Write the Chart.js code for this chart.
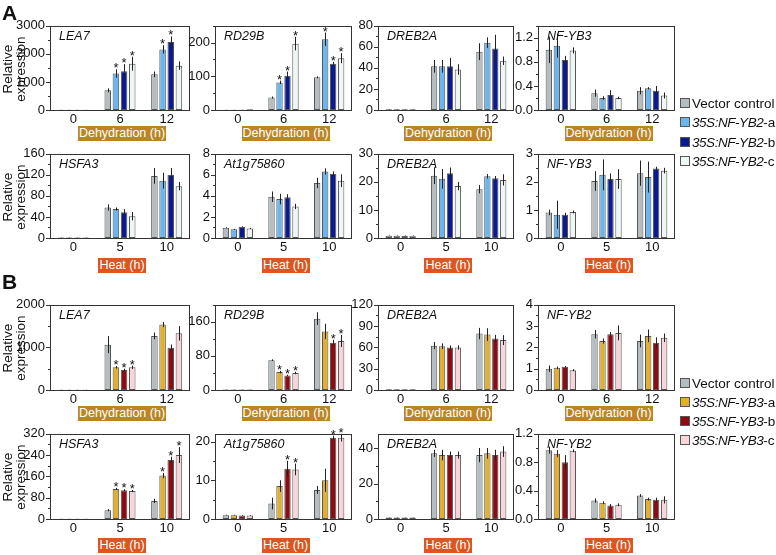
<!DOCTYPE html>
<html>
<head>
<meta charset="utf-8">
<script src="https://cdn.jsdelivr.net/npm/chart.js@4.4.0/dist/chart.umd.min.js"></script>
<style>
body{margin:0;background:#fff;width:776px;height:555px;position:relative;overflow:hidden;font-family:"Liberation Sans",Arial,sans-serif;color:#111}
canvas{position:absolute}
.xt{position:absolute;height:15px;line-height:15px;color:#fff;font-size:12.5px;text-align:center;white-space:nowrap}
.yt{position:absolute;width:130px;height:26px;line-height:12.5px;font-size:13.5px;text-align:center;transform:rotate(-90deg)}
.leg{position:absolute;left:680px;font-size:13.5px;line-height:16px;white-space:nowrap}
.leg i{letter-spacing:-0.45px}
.sw{display:inline-block;width:8px;height:8px;border:1px solid #555;margin-right:2px}
.lab{position:absolute;left:2px;font-size:21px;font-weight:bold}
</style>
</head>
<body>
<script>
// x categories
const dehydHours = ['0', '6', '12'];
const heatHours = ['0', '5', '10'];

// lines (series)
const linesYB2 = ['Vector control', '35S:NF-YB2-a', '35S:NF-YB2-b', '35S:NF-YB2-c'];
const linesYB3 = ['Vector control', '35S:NF-YB3-a', '35S:NF-YB3-b', '35S:NF-YB3-c'];
const coloursYB2 = ['#b5bdc0', '#6bb6ee', '#0b1a8e', '#eef7f3'];
const coloursYB3 = ['#b5bdc0', '#e2b02e', '#8c0c16', '#f7d5da'];

// ---- A, dehydration ----
const aLea7 = [[5, 700, 1270], [5, 1300, 2160], [5, 1385, 2420], [5, 1650, 1580]];
const aLea7Err = [[3, 70, 100], [3, 150, 150], [3, 250, 200], [3, 250, 150]];
const aLea7Star = [[0, 0, 0], [0, 1, 1], [0, 1, 1], [0, 1, 0]];

const aRd29b = [[1, 37, 97], [1, 82, 210], [1, 102, 137], [2, 197, 154]];
const aRd29bErr = [[0.3, 3, 3], [0.3, 5, 20], [0.3, 12, 6], [0.3, 20, 15]];
const aRd29bStar = [[0, 0, 0], [0, 1, 1], [0, 1, 1], [0, 1, 1]];

const aDreb2aD = [[0.8, 41.5, 55.4], [0.8, 41.5, 64], [0.8, 41.5, 58.5], [0.8, 38.5, 46.8]];
const aDreb2aDErr = [[0.2, 6, 8], [0.2, 6, 5], [0.2, 8, 13], [0.2, 5, 4]];

const aYb3D = [[1.0, 0.28, 0.32], [1.07, 0.2, 0.36], [0.83, 0.25, 0.32], [0.99, 0.2, 0.24]];
const aYb3DErr = [[0.22, 0.06, 0.06], [0.2, 0.03, 0.02], [0.07, 0.08, 0.08], [0.05, 0.02, 0.05]];

// ---- A, heat ----
const aHsfa3 = [[1, 58, 118], [1, 55, 109], [1, 49, 120], [1, 41.5, 98.5]];
const aHsfa3Err = [[0.3, 6, 15], [0.3, 3, 15], [0.3, 6, 13], [0.3, 8, 8]];

const aAt1g = [[0.97, 3.92, 5.23], [0.82, 3.7, 6.32], [1.06, 3.86, 6.08], [0.91, 3.0, 5.44]];
const aAt1gErr = [[0.05, 0.5, 0.5], [0.05, 0.5, 0.3], [0.05, 0.3, 0.25], [0.05, 0.25, 0.6]];

const aDreb2aH = [[0.8, 22.2, 17.4], [0.8, 21.1, 22], [0.8, 23.1, 21.3], [0.8, 18.5, 20.7]];
const aDreb2aHErr = [[0.1, 3, 1.5], [0.1, 3.5, 0.8], [0.1, 2, 0.8], [0.1, 1.5, 2]];

const aYb3H = [[0.91, 2.03, 2.31], [0.83, 2.25, 2.17], [0.83, 2.1, 2.48], [0.93, 2.1, 2.4]];
const aYb3HErr = [[0.1, 0.35, 0.45], [0.5, 0.55, 0.55], [0.07, 0.2, 0.06], [0.05, 0.35, 0.1]];

// ---- B, dehydration ----
const bLea7 = [[5, 1065, 1270], [5, 532, 1536], [5, 471, 989], [5, 532, 1330]];
const bLea7Err = [[3, 200, 80], [3, 30, 60], [3, 30, 80], [3, 40, 170]];
const bLea7Star = [[0, 0, 0], [0, 1, 0], [0, 1, 0], [0, 1, 0]];

const bRd29b = [[1, 70, 167.5], [1, 42, 137.5], [1, 34, 111], [1, 40, 115]];
const bRd29bErr = [[0.3, 2, 15], [0.3, 3, 18], [0.3, 2, 7], [0.3, 3, 14]];
const bRd29bStar = [[0, 0, 0], [0, 1, 0], [0, 1, 1], [0, 1, 1]];

const bDreb2aD = [[1, 62.5, 79.5], [1, 61.6, 78], [1, 59.8, 72.6], [1, 59.8, 70.3]];
const bDreb2aDErr = [[0.2, 5, 8], [0.2, 4, 9], [0.2, 3, 5], [0.2, 3, 7]];

const bYb2D = [[1.0, 2.62, 2.3], [1.04, 2.3, 2.54], [1.09, 2.62, 2.22], [0.93, 2.68, 2.45]];
const bYb2DErr = [[0.15, 0.2, 0.3], [0.06, 0.12, 0.3], [0.04, 0.1, 0.25], [0.05, 0.35, 0.2]];

// ---- B, heat ----
const bHsfa3 = [[1, 33, 68], [1, 113, 163], [1, 108, 222], [1, 105, 240]];
const bHsfa3Err = [[0.3, 4, 8], [0.3, 4, 10], [0.3, 4, 12], [0.3, 4, 30]];
const bHsfa3Star = [[0, 0, 0], [0, 1, 1], [0, 1, 1], [0, 1, 1]];

const bAt1g = [[1, 4, 7.5], [1, 8.5, 10], [0.9, 13, 21], [0.9, 12.8, 21]];
const bAt1gErr = [[0.1, 1.5, 1], [0.1, 1.5, 3], [0.1, 2, 0.5], [0.1, 1.5, 1]];
const bAt1gStar = [[0, 0, 0], [0, 0, 0], [0, 1, 1], [0, 1, 1]];

const bDreb2aH = [[0.8, 37, 36], [0.8, 36, 37], [0.8, 36, 36], [0.8, 36, 38]];
const bDreb2aHErr = [[0.1, 2, 4], [0.1, 3, 3], [0.1, 2, 3], [0.1, 2, 3]];

const bYb2H = [[0.97, 0.26, 0.33], [0.92, 0.23, 0.28], [0.8, 0.19, 0.27], [0.96, 0.2, 0.27]];
const bYb2HErr = [[0.05, 0.03, 0.02], [0.05, 0.02, 0.02], [0.1, 0.02, 0.03], [0.02, 0.02, 0.05]];

const noStar = [[0, 0, 0], [0, 0, 0], [0, 0, 0], [0, 0, 0]];

// layout of plot areas
const cols = [[50, 190], [215, 352], [378, 514], [538, 675]];
const rows = [[23, 110], [151, 238], [302, 390], [431, 519]];
const boxTop = [126, 258, 406, 538];

const panels = [
  {gene: 'LEA7', row: 0, col: 0, mean: aLea7, err: aLea7Err, star: aLea7Star, max: 3000, major: 1000, minor: 500, dec: 0},
  {gene: 'RD29B', row: 0, col: 1, mean: aRd29b, err: aRd29bErr, star: aRd29bStar, max: 250, major: 100, minor: 50, dec: 0},
  {gene: 'DREB2A', row: 0, col: 2, mean: aDreb2aD, err: aDreb2aDErr, star: noStar, max: 80, major: 20, minor: 10, dec: 0},
  {gene: 'NF-YB3', row: 0, col: 3, mean: aYb3D, err: aYb3DErr, star: noStar, max: 1.4, major: 0.4, minor: 0.2, dec: 1},
  {gene: 'HSFA3', row: 1, col: 0, mean: aHsfa3, err: aHsfa3Err, star: noStar, max: 160, major: 40, minor: 20, dec: 0},
  {gene: 'At1g75860', row: 1, col: 1, mean: aAt1g, err: aAt1gErr, star: noStar, max: 8, major: 2, minor: 1, dec: 0},
  {gene: 'DREB2A', row: 1, col: 2, mean: aDreb2aH, err: aDreb2aHErr, star: noStar, max: 30, major: 10, minor: 5, dec: 0},
  {gene: 'NF-YB3', row: 1, col: 3, mean: aYb3H, err: aYb3HErr, star: noStar, max: 3, major: 1, minor: 0.5, dec: 0},
  {gene: 'LEA7', row: 2, col: 0, mean: bLea7, err: bLea7Err, star: bLea7Star, max: 2000, major: 1000, minor: 500, dec: 0},
  {gene: 'RD29B', row: 2, col: 1, mean: bRd29b, err: bRd29bErr, star: bRd29bStar, max: 200, major: 80, minor: 40, dec: 0},
  {gene: 'DREB2A', row: 2, col: 2, mean: bDreb2aD, err: bDreb2aDErr, star: noStar, max: 120, major: 30, minor: 15, dec: 0},
  {gene: 'NF-YB2', row: 2, col: 3, mean: bYb2D, err: bYb2DErr, star: noStar, max: 4, major: 1, minor: 0.5, dec: 0},
  {gene: 'HSFA3', row: 3, col: 0, mean: bHsfa3, err: bHsfa3Err, star: bHsfa3Star, max: 320, major: 80, minor: 40, dec: 0},
  {gene: 'At1g75860', row: 3, col: 1, mean: bAt1g, err: bAt1gErr, star: bAt1gStar, max: 22, major: 10, minor: 5, dec: 0},
  {gene: 'DREB2A', row: 3, col: 2, mean: bDreb2aH, err: bDreb2aHErr, star: noStar, max: 48, major: 20, minor: 10, dec: 0},
  {gene: 'NF-YB2', row: 3, col: 3, mean: bYb2H, err: bYb2HErr, star: noStar, max: 1.2, major: 0.4, minor: 0.2, dec: 1}
];

const FONT = '"Liberation Sans", Arial, sans-serif';
Chart.defaults.font.family = FONT;
Chart.defaults.font.size = 13;
Chart.defaults.color = '#111';

// error bars, asterisks, frame, y ticks and gene name
const decor = {
  id: 'decor',
  afterDatasetsDraw(chart, args, o) {
    const ctx = chart.ctx, ca = chart.chartArea, y = chart.scales.y;
    ctx.save();
    ctx.strokeStyle = '#222';
    ctx.lineWidth = 1;
    ctx.fillStyle = '#111';
    ctx.font = '13px ' + FONT;
    ctx.textAlign = 'center';
    chart.data.datasets.forEach((ds, i) => {
      chart.getDatasetMeta(i).data.forEach((bar, j) => {
        const v = ds.data[j], e = o.err[i][j];
        const x = Math.round(bar.x) + 0.5;
        const top = y.getPixelForValue(v + e);
        ctx.beginPath();
        ctx.moveTo(x, y.getPixelForValue(Math.max(0, v - e)));
        ctx.lineTo(x, top);
        ctx.stroke();
        if (o.star[i][j]) ctx.fillText('*', bar.x, top + 3);
      });
    });
    // frame
    ctx.strokeStyle = '#333';
    ctx.strokeRect(Math.round(ca.left) + 0.5, Math.round(ca.top) + 0.5,
      Math.round(ca.right - ca.left) - 1, Math.round(ca.bottom - ca.top));
    // y ticks
    y.ticks.forEach(t => {
      const py = Math.round(y.getPixelForValue(t.value)) + 0.5;
      const len = t.label !== '' ? 4 : 2;
      ctx.beginPath();
      ctx.moveTo(ca.left - len, py);
      ctx.lineTo(ca.left, py);
      ctx.stroke();
    });
    // gene name
    ctx.textAlign = 'left';
    ctx.font = 'italic 12.5px ' + FONT;
    ctx.fillText(o.gene, ca.left + 9, ca.top + 14);
    ctx.restore();
  }
};

function makePanel(p, idx) {
  const [l, r] = cols[p.col], [t, b] = rows[p.row];
  const isA = idx < 8;
  const heat = p.row % 2 === 1;
  const cv = document.createElement('canvas');
  cv.width = r - l + 51;
  cv.height = b - t + 30;
  cv.style.left = (l - 45) + 'px';
  cv.style.top = (t - 10) + 'px';
  document.body.appendChild(cv);
  const names = isA ? linesYB2 : linesYB3;
  const colours = isA ? coloursYB2 : coloursYB3;
  const isMajor = v => Math.abs(v / p.major - Math.round(v / p.major)) < 1e-6;
  new Chart(cv, {
    type: 'bar',
    data: {
      labels: heat ? heatHours : dehydHours,
      datasets: p.mean.map((m, i) => ({
        label: names[i], data: m,
        backgroundColor: colours[i], borderColor: '#555', borderWidth: 1, borderSkipped: false,
        categoryPercentage: 0.7, barPercentage: 0.8
      }))
    },
    options: {
      responsive: false, animation: false, events: [],
      layout: {padding: {top: 10, right: 6, left: 0, bottom: 0}},
      scales: {
        x: {
          grid: {display: false, drawTicks: false}, border: {display: false},
          ticks: {padding: 2},
          afterFit: s => { s.height = 20; }
        },
        y: {
          min: 0, max: p.max,
          grid: {display: false, drawTicks: false}, border: {display: false},
          ticks: {stepSize: p.minor, autoSkip: false, includeBounds: false, padding: 5,
            callback: v => isMajor(v) ? (Math.round(v / p.major) * p.major).toFixed(p.dec) : ''},
          afterFit: s => { s.width = 45; }
        }
      },
      plugins: {
        legend: {display: false}, tooltip: {enabled: false},
        decor: {err: p.err, star: p.star, gene: p.gene}
      }
    },
    plugins: [decor]
  });

  // coloured x title
  const bx = document.createElement('div');
  bx.className = 'xt';
  const w = heat ? 48 : 88;
  bx.style.width = w + 'px';
  bx.style.left = ((l + r) / 2 - w / 2 + 2) + 'px';
  bx.style.top = boxTop[p.row] + 'px';
  bx.style.background = heat ? '#de5520' : '#bb8526';
  bx.textContent = heat ? 'Heat (h)' : 'Dehydration (h)';
  document.body.appendChild(bx);
}

panels.forEach(makePanel);

// y titles
rows.forEach(([t, b]) => {
  const d = document.createElement('div');
  d.className = 'yt';
  d.innerHTML = 'Relative<br>expression';
  d.style.left = (15 - 65) + 'px';
  d.style.top = ((t + b) / 2 + 2 - 13) + 'px';
  document.body.appendChild(d);
});

// panel letters
[['A', 1], ['B', 270]].forEach(([s, y]) => {
  const d = document.createElement('div');
  d.className = 'lab';
  d.style.top = y + 'px';
  d.textContent = s;
  document.body.appendChild(d);
});

// legends
function legend(names, colours, centres) {
  names.forEach((n, i) => {
    const d = document.createElement('div');
    d.className = 'leg';
    d.style.top = (centres[i] - 8) + 'px';
    const m = n.match(/^(35S:NF-YB\d)(-\w)$/);
    const txt = m ? '<i>' + m[1] + '</i>' + m[2] : n;
    d.innerHTML = '<span class="sw" style="background:' + colours[i] + '"></span>' + txt;
    document.body.appendChild(d);
  });
}
legend(linesYB2, coloursYB2, [104, 123, 143, 162]);
legend(linesYB3, coloursYB3, [384, 403, 422, 441]);
</script>
</body>
</html>
